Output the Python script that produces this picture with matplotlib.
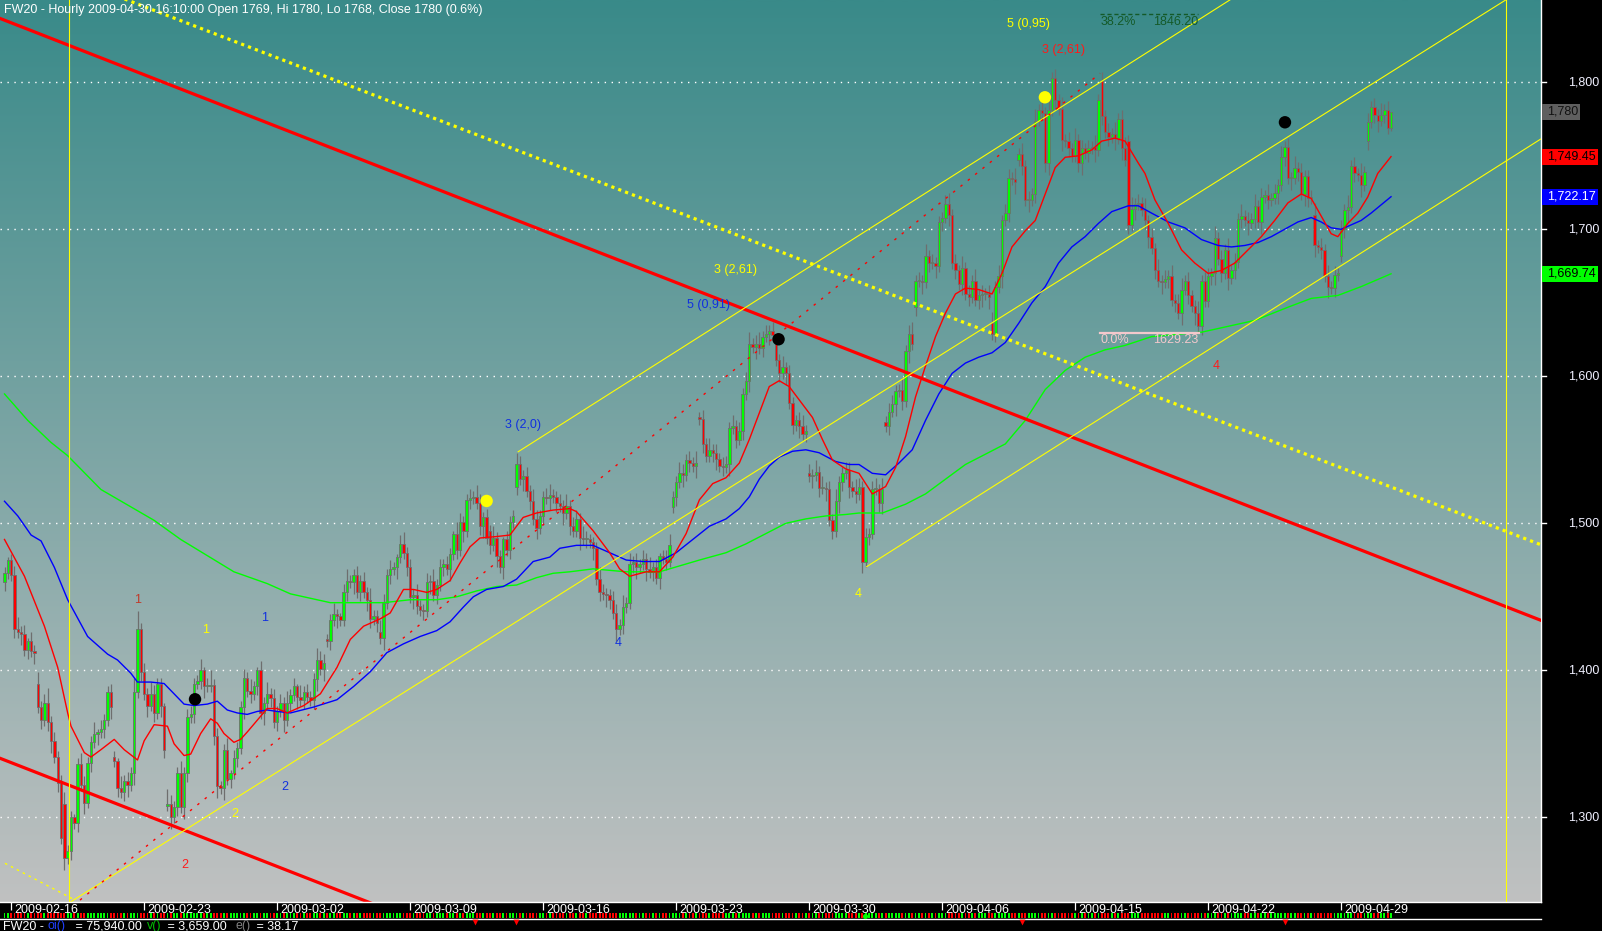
import numpy as np
import matplotlib
matplotlib.use("Agg")
import matplotlib.pyplot as plt
import matplotlib.transforms as mtransforms
from matplotlib.patches import Rectangle

plt.rcParams['font.family'] = ['Liberation Sans', 'DejaVu Sans']

# ---------------- data ----------------
title = "FW20 - Hourly 2009-04-30 16:10:00 Open 1769, Hi 1780, Lo 1768, Close 1780 (0.6%)"
date_labels = ['2009-02-16', '2009-02-23', '2009-03-02', '2009-03-09', '2009-03-16', '2009-03-23',
               '2009-03-30', '2009-04-06', '2009-04-15', '2009-04-22', '2009-04-29']
date_bars = [2, 42, 82, 122, 162, 202, 242, 282, 322, 362, 402]
price_ticks = [1300, 1400, 1500, 1600, 1700, 1800]

closes = [
    1466, 1475,
    1465, 1428, 1426, 1425, 1414, 1420, 1413, 1412, 1375, 1366,
    1378, 1365, 1352, 1341, 1323, 1286, 1272, 1277, 1300, 1296,
    1336, 1322, 1310, 1337, 1351, 1357, 1358, 1360, 1366, 1385,
    1375, 1338, 1320, 1317, 1325, 1322, 1330, 1385, 1428, 1399,
    1384, 1376, 1384, 1371, 1391, 1376, 1346, 1309, 1300, 1307,
    1330, 1307, 1330, 1368, 1370, 1391, 1393, 1400, 1389, 1389,
    1390, 1355, 1321, 1320, 1346, 1326, 1330, 1340, 1347, 1375,
    1395, 1386, 1384, 1389, 1400, 1371, 1378, 1384, 1381, 1365,
    1372, 1378, 1366, 1378, 1383, 1389, 1382, 1380, 1385, 1382,
    1380, 1394, 1407, 1401, 1405, 1420, 1434, 1438, 1437, 1434,
    1453, 1461, 1460, 1465, 1453, 1461, 1453, 1448, 1435, 1437,
    1432, 1422, 1446, 1465, 1469, 1470, 1477, 1486, 1480, 1470,
    1450, 1451, 1444, 1441, 1440, 1460, 1461, 1451, 1458, 1470,
    1472, 1469, 1479, 1493, 1482, 1501, 1495, 1516, 1517, 1518,
    1514, 1498, 1504, 1490, 1485, 1490, 1478, 1470, 1489, 1482,
    1501, 1505, 1540, 1530, 1532, 1522, 1515, 1503, 1497, 1505,
    1518, 1517, 1519, 1518, 1514, 1512, 1507, 1512, 1498, 1495,
    1503, 1490, 1489, 1489, 1487, 1483, 1462, 1453, 1452, 1451,
    1448, 1439, 1428, 1431, 1443, 1446, 1472, 1474, 1470, 1472,
    1476, 1469, 1467, 1470, 1463, 1478, 1476, 1474, 1485, 1518,
    1528, 1534, 1533, 1543, 1541, 1539, 1541, 1571, 1554, 1546,
    1550, 1548, 1544, 1539, 1538, 1540, 1565, 1566, 1557, 1563,
    1588, 1597, 1622, 1620, 1622, 1619, 1627, 1629, 1631, 1628,
    1611, 1602, 1606, 1602, 1582, 1567, 1570, 1566, 1561, 1563,
    1532, 1533, 1535, 1524, 1524, 1523, 1502, 1495, 1515, 1528,
    1534, 1536, 1525, 1522, 1520, 1525, 1474, 1491, 1493, 1523,
    1523, 1514, 1523, 1566, 1576, 1581, 1590, 1591, 1583, 1617,
    1629, 1622, 1665, 1665, 1664, 1682, 1677, 1677, 1675, 1705,
    1708, 1717, 1710, 1677, 1672, 1663, 1674, 1656, 1654, 1665,
    1652, 1655, 1656, 1656, 1654, 1629, 1661, 1668, 1706, 1711,
    1735, 1734, 1732, 1751, 1743, 1720, 1720, 1724, 1774, 1781,
    1779, 1745, 1781, 1803, 1788, 1782, 1761, 1760, 1755, 1750,
    1761, 1745, 1755, 1752, 1755, 1756, 1754, 1788, 1777, 1766,
    1763, 1765, 1762, 1775, 1755, 1747, 1703, 1714, 1717, 1718,
    1713, 1706, 1695, 1687, 1672, 1665, 1664, 1666, 1668, 1652,
    1650, 1643, 1659, 1665, 1655, 1648, 1643, 1634, 1665, 1651,
    1668, 1670, 1694, 1680, 1670, 1686, 1667, 1672, 1678, 1707,
    1709, 1706, 1704, 1707, 1716, 1705, 1722, 1723, 1720, 1721,
    1725, 1730, 1749, 1756, 1735, 1735, 1742, 1739, 1724, 1736,
    1721, 1721, 1689, 1688, 1686, 1668, 1661, 1660, 1669, 1670,
    1700, 1713, 1715, 1743, 1738, 1737, 1730, 1739, 1773, 1783,
    1778, 1774, 1778, 1781, 1769, 1780,
]
# opens that differ from the previous close (session gaps)
gap_opens = {0: 1460, 10: 1391, 18: 1309, 33: 1341, 49: 1308, 97: 1421, 113: 1426,
             146: 1495, 154: 1525, 201: 1511, 209: 1572, 232: 1622, 242: 1534,
             265: 1569, 274: 1647, 297: 1636, 305: 1747, 330: 1801, 338: 1760,
             394: 1710, 402: 1682, 410: 1760}
# wick lengths (each digit = 2 points) above / below the body
hi_wick = ("21"
           "2342313242" "3523234221" "2432241322" "3214232562"
           "3243221532" "2423322413" "5232241322" "3242132423"
           "2324231423" "2243322421" "3422323242" "2432321342"
           "3242232423" "2321432232" "4323242213" "2243232432"
           "2342232423" "3243222432" "2332424232" "3242312342"
           "2432324232" "4232332423" "2342342323" "3242322342"
           "3242423242" "2332432323" "4242332242" "3423242322"
           "2342324232" "4232342423" "3242423242" "3242324232"
           "4232324232" "3242342423" "2423242324" "2342322423"
           "3242324232" "4232423242" "3242324232" "2342324232"
           "3242324232324230")
lo_wick = ("32"
           "2324232423" "2342324232" "3242324232" "4232342423"
           "2423243242" "3243232342" "2342423232" "4232324232"
           "3242324232" "2342423242" "2324232432" "3242324223"
           "2432324232" "3242324232" "2342324242" "3232423242"
           "3242324232" "2423242324" "3242322342" "2423242322"
           "3242324232" "2342324232" "3242423242" "2324232423"
           "2423242324" "3242324232" "2342324232" "4232423242"
           "3242324232" "2342423242" "3242324232" "2342324232"
           "2342324232" "3242423242" "2342324232" "3242324232"
           "2342324232" "3242324232" "2423242324" "3242324232"
           "2342324232342321")

red_ma_bar = [0, 6, 12, 16, 19, 20, 24, 26, 29, 33, 36, 40, 42, 45, 49, 51, 54, 56, 59, 62, 64, 66, 69,
              71, 73, 76, 79, 82, 85, 90, 95, 100, 104, 108, 113, 116, 120, 123, 127, 130, 134, 137,
              140, 143, 148, 152, 156, 160, 165, 170, 172, 177, 182, 185, 188, 193, 197, 201, 205,
              209, 213, 217, 221, 224, 227, 230, 233, 236, 239, 243, 246, 249, 253, 257, 261, 265,
              268, 271, 274, 277, 280, 283, 286, 289, 293, 297, 300, 303, 307, 310, 313, 316, 319,
              323, 327, 330, 334, 337, 341, 343, 346, 350, 354, 358, 362, 366, 370, 374, 378, 382,
              386, 390, 393, 396, 399, 401, 404, 407, 410, 413, 417]
red_ma_val = [1489, 1464, 1430, 1402, 1371, 1362, 1344, 1341, 1346, 1353, 1346, 1339, 1352, 1363, 1362,
              1350, 1342, 1343, 1357, 1367, 1364, 1357, 1351, 1353, 1358, 1366, 1374, 1374, 1371,
              1376, 1384, 1402, 1421, 1430, 1435, 1439, 1455, 1455, 1453, 1455, 1461, 1473, 1484,
              1490, 1491, 1492, 1504, 1507, 1509, 1510, 1508, 1495, 1480, 1469, 1464, 1467, 1467,
              1477, 1493, 1516, 1527, 1531, 1541, 1557, 1575, 1593, 1597, 1593, 1584, 1572, 1557,
              1543, 1537, 1534, 1520, 1525, 1538, 1559, 1586, 1607, 1627, 1643, 1656, 1660, 1659,
              1656, 1670, 1688, 1699, 1706, 1724, 1742, 1749, 1750, 1754, 1760, 1762, 1760, 1745,
              1738, 1720, 1704, 1686, 1677, 1670, 1672, 1677, 1686, 1695, 1706, 1718, 1724, 1721,
              1709, 1697, 1695, 1704, 1711, 1722, 1738, 1749.45]

blue_ma_bar = [0, 4, 8, 11, 15, 19, 25, 31, 34, 38, 40, 44, 48, 51, 54, 57, 61, 64, 67, 70, 73, 76, 79,
               82, 86, 93, 100, 105, 110, 115, 120, 125, 130, 134, 138, 141, 145, 150, 154, 159, 164,
               167, 172, 177, 182, 187, 192, 197, 202, 207, 212, 217, 221, 224, 227, 230, 233, 237,
               241, 245, 250, 254, 257, 261, 265, 269, 273, 277, 281, 285, 289, 293, 297, 301, 305,
               309, 313, 317, 321, 325, 329, 333, 338, 341, 345, 350, 355, 360, 365, 369, 373, 377,
               381, 385, 389, 393, 396, 399, 402, 405, 408, 411, 417]
blue_ma_val = [1515, 1505, 1492, 1488, 1470, 1448, 1423, 1411, 1407, 1398, 1392, 1392, 1391, 1384, 1377,
               1376, 1377, 1379, 1373, 1371, 1370, 1372, 1373, 1372, 1371, 1375, 1380, 1389, 1399,
               1412, 1418, 1423, 1427, 1433, 1443, 1450, 1455, 1457, 1462, 1474, 1477, 1483, 1485,
               1485, 1480, 1475, 1474, 1474, 1480, 1489, 1498, 1503, 1510, 1518, 1530, 1539, 1545,
               1549, 1550, 1548, 1542, 1540, 1540, 1534, 1533, 1541, 1550, 1570, 1588, 1602, 1609,
               1613, 1616, 1623, 1636, 1650, 1661, 1677, 1688, 1695, 1704, 1712, 1716, 1716, 1711,
               1705, 1701, 1693, 1689, 1688, 1689, 1691, 1695, 1700, 1705, 1708, 1705, 1701, 1700,
               1703, 1706, 1711, 1722.17]

green_ma_bar = [0, 7, 14, 19, 29, 45, 53, 69, 79, 86, 90, 98, 106, 114, 122, 130, 136, 142, 148, 154,
                160, 165, 170, 177, 187, 197, 203, 209, 217, 223, 229, 235, 241, 247, 253, 257, 264,
                271, 277, 283, 289, 295, 301, 307, 313, 319, 325, 331, 337, 345, 360, 366, 376, 386,
                393, 401, 408, 417]
green_ma_val = [1588, 1570, 1555, 1546, 1523, 1502, 1489, 1467, 1459, 1452, 1450, 1446, 1446, 1446,
                1448, 1448, 1450, 1454, 1457, 1458, 1463, 1466, 1467, 1469, 1467, 1467, 1471, 1475,
                1480, 1486, 1493, 1500, 1503, 1505, 1506, 1507, 1507, 1513, 1520, 1530, 1540, 1547,
                1554, 1570, 1591, 1604, 1613, 1618, 1621, 1627, 1630, 1633, 1638, 1647, 1653, 1655,
                1661, 1669.74]

# trend lines: (bar, price) end points
red_main_line = ([-1.4, 470.0], [1843.5, 1427.0])
red_low_line = ([-1.4, 120.0], [1340.2, 1233.0])
yellow_dotted_line = ([30.0, 470.0], [1862.0, 1478.5])
chan_top = ([154.5, 372.0], [1548.7, 1861.0])
chan_mid = ([20.0, 455.0], [1242.6, 1861.0])
chan_low = ([259.3, 462.1], [1470.5, 1761.5])
red_dashed = ([22.7, 329.5], [1243.7, 1806.1])
yellow_dashed = ([0.15, 21.2], [1268.7, 1243.7])
fib_top = ([329.5, 358.9], [1846.2, 1846.2])
fib_low = ([329.5, 359.1], [1629.23, 1629.23])

dots_bar = [57.3, 145.0, 232.8, 312.9, 385.1]
dots_val = [1380.3, 1515.2, 1625.2, 1789.8, 1772.8]
dots_col = ['black', '#ffff00', 'black', '#ffff00', 'black']

last_labels = [(1780, '1,780', '#5f5f5f', '#111111', 38),
               (1749.45, '1,749.45', '#ff0000', '#000000', 56),
               (1722.17, '1,722.17', '#0000ff', '#ffffff', 56),
               (1669.74, '1,669.74', '#00ff00', '#000000', 56)]

RED_T = '#ff1a1a'
BLUE_T = '#1030e0'
YEL_T = '#ffff00'
wave_labels = [("1", 39.9, 1447.8, '#c03a2a'), ("1", 60.6, 1427.3, YEL_T), ("1", 78.3, 1435.4, BLUE_T),
               ("2", 54.3, 1267.6, RED_T), ("2", 69.3, 1302.2, YEL_T), ("2", 84.4, 1320.8, BLUE_T),
               ("3 (2,0)", 155.8, 1566.9, BLUE_T), ("4", 184.5, 1418.6, BLUE_T),
               ("3 (2,61)", 219.9, 1672.3, YEL_T), ("5 (0,91)", 211.6, 1648.8, BLUE_T),
               ("4", 256.7, 1451.9, YEL_T), ("5 (0,95)", 307.9, 1839.7, YEL_T),
               ("3 (2,61)", 318.4, 1822.0, RED_T), ("4", 364.4, 1607.2, RED_T)]

# ---------------- figure ----------------
W, H = 1602, 931
fig = plt.figure(figsize=(W / 100, H / 100), dpi=100, facecolor='black')

PX0, PXB = 4.5, 3.325           # pixel of bar 0, pixels per bar
PLOT_R = 1541                   # plot right edge in px
PLOT_B = 902                    # plot bottom in px
Y1800, PXPT = 82.3, 1.47        # px of 1800, px per point
X0 = -PX0 / PXB
X1 = (PLOT_R - PX0) / PXB
Y_TOP = 1800 + Y1800 / PXPT
Y_BOT = 1800 - (PLOT_B - Y1800) / PXPT

ax = fig.add_axes([0, (H - PLOT_B) / H, PLOT_R / W, PLOT_B / H])

# gradient background
g = np.linspace(0, 1, 256)[:, None, None]
top = np.array([57, 138, 137]) / 255.0
bot = np.array([192, 193, 193]) / 255.0
img = top + (bot - top) * g
ax.imshow(img, extent=[X0, X1, Y_BOT, Y_TOP], aspect='auto', origin='upper',
          interpolation='bilinear', zorder=0)

# grid
ax.hlines(price_ticks, X0, X1, colors='white', linewidth=1.0, linestyles=(0, (1, 4)), zorder=1)

# candles
c = np.array(closes, dtype=float)
n = len(c)
idx = np.arange(n)
o = np.r_[c[0], c[:-1]]
for k, v in gap_opens.items():
    o[k] = v
hw = np.array([int(ch) for ch in hi_wick], dtype=float) * 2
lw_ = np.array([int(ch) for ch in lo_wick], dtype=float) * 2
hi = np.maximum(o, c) + hw[:n]
lo = np.minimum(o, c) - lw_[:n]
up = c >= o
cols = np.where(up, '#00ff00', '#ff0000')
ax.vlines(idx, lo, hi, colors='#6e6e6e', linewidth=0.9, zorder=3)
body_h = np.maximum(np.abs(c - o), 0.7)
ax.bar(idx, body_h, bottom=np.minimum(o, c), width=0.72, color=cols,
       edgecolor='#6e6e6e', linewidth=0.6, zorder=4)

# moving averages
ax.plot(green_ma_bar, green_ma_val, color='#00ff00', lw=1.0, zorder=5)
ax.plot(blue_ma_bar, blue_ma_val, color='#0000ff', lw=1.0, zorder=5)
ax.plot(red_ma_bar, red_ma_val, color='#ff0000', lw=1.0, zorder=5)

# trend lines
ax.plot(*red_main_line, color='#ff0000', lw=2.3, zorder=6)
ax.plot(*red_low_line, color='#ff0000', lw=2.3, zorder=6)
ax.plot(*yellow_dotted_line, color='#ffff00', lw=2.3, linestyle=(0, (1, 1.3)), zorder=6)
for ln in (chan_top, chan_mid, chan_low):
    ax.plot(*ln, color='#ffff00', lw=0.8, zorder=6)
ax.plot(*red_dashed, color='#ff0000', lw=1.0, linestyle=(0, (1.8, 5)), zorder=6)
ax.plot(*yellow_dashed, color='#ffff00', lw=1.0, linestyle=(0, (1.8, 3)), zorder=6)
ax.axvline((68.5 - PX0) / PXB, color='#ffff00', lw=0.8, zorder=6)
ax.axvline((1505.7 - PX0) / PXB, color='#ffff00', lw=0.8, zorder=6)

# fib levels
ax.plot(*fib_top, color='#145a28', lw=1.0, linestyle=(0, (3, 2)), zorder=6)
ax.text(329.5, 1841.0, '38.2%', color='#145a28', fontsize=9, ha='left', va='center', zorder=7)
ax.text(345.4, 1841.0, '1846.20', color='#145a28', fontsize=9, ha='left', va='center', zorder=7)
ax.plot(*fib_low, color='#f4c8cc', lw=1.6, zorder=6)
ax.text(329.5, 1625.0, '0.0%', color='#f4c8cc', fontsize=9, ha='left', va='center', zorder=7)
ax.text(345.4, 1625.0, '1629.23', color='#f4c8cc', fontsize=9, ha='left', va='center', zorder=7)

# dots
ax.scatter(dots_bar, dots_val, s=80, c=dots_col, zorder=8, linewidths=0)

# wave labels
for txt, xb, yp, col in wave_labels:
    ax.text(xb, yp, txt, color=col, fontsize=9, ha='center', va='center', zorder=7)

ax.set_xlim(X0, X1)
ax.set_ylim(Y_BOT, Y_TOP)
ax.set_xticks([]); ax.set_yticks([])
for s in ('left', 'top', 'bottom'):
    ax.spines[s].set_visible(False)
ax.spines['right'].set_color('white')
ax.spines['right'].set_linewidth(1.0)

# header
ax.text(4 / PLOT_R, 1 - 9.5 / PLOT_B, title, transform=ax.transAxes, color='white',
        fontsize=9, ha='left', va='center', zorder=9)

# right price axis
trans = mtransforms.blended_transform_factory(ax.transAxes, ax.transData)
for p in price_ticks:
    ax.plot([1.0, 1546 / PLOT_R], [p, p], color='white', lw=1.0, transform=trans, clip_on=False)
    ax.text(1599 / PLOT_R, p, f"{p:,}", color='#f0f0ff', fontsize=9, ha='right', va='center',
            transform=trans, clip_on=False)
for p, txt, bg, fg, wpx in last_labels:
    ax.add_patch(Rectangle((1542 / PLOT_R, p - 8 / PXPT), wpx / PLOT_R, 16 / PXPT, transform=trans,
                           facecolor=bg, edgecolor='none', clip_on=False, zorder=10))
    ax.text(1547 / PLOT_R, p, txt, color=fg, fontsize=9, ha='left', va='center',
            transform=trans, clip_on=False, zorder=11)

# date band
bax = fig.add_axes([0, (H - 919) / H, PLOT_R / W, 17 / H])
bax.set_facecolor('black')
bax.bar(idx, 5, bottom=1, width=0.55, color=cols, linewidth=0)
bax.vlines(date_bars, 9, 17, colors='white', linewidth=0.9)
for b, lab in zip(date_bars, date_labels):
    bax.text(b + 0.9, 8.8, lab, color='white', fontsize=9, ha='left', va='center')
bax.set_xlim(X0, X1)
bax.set_ylim(0, 17)
bax.set_xticks([]); bax.set_yticks([])
for s in ('left', 'right'):
    bax.spines[s].set_visible(False)
for s in ('top', 'bottom'):
    bax.spines[s].set_color('white')
    bax.spines[s].set_linewidth(1.0)

# footer overlay
ov = fig.add_axes([0, 0, 1, 1])
ov.set_xlim(0, W); ov.set_ylim(H, 0); ov.axis('off')
ov.scatter([474.5, 516, 1021.5, 1285], [921.5, 921.5, 921.5, 921.5], marker='v', s=18,
           c='#ff0000', linewidths=0)
ov.scatter([865], [916], marker='o', s=14, c='#00ff00', linewidths=0)
pieces = [(3, 'FW20 - ', 'white'), (48, 'oi()', '#2040ff'), (72, ' = 75,940.00', 'white'),
          (147, 'v()', '#00c000'), (164, ' = 3,659.00', 'white'), (236, 'e()', '#808080'),
          (253, ' = 38.17', 'white')]
for xp, t, col in pieces:
    ov.text(xp, 926.5, t, color=col, fontsize=9, ha='left', va='center')

fig.savefig('out.png', dpi=100, facecolor='black')
